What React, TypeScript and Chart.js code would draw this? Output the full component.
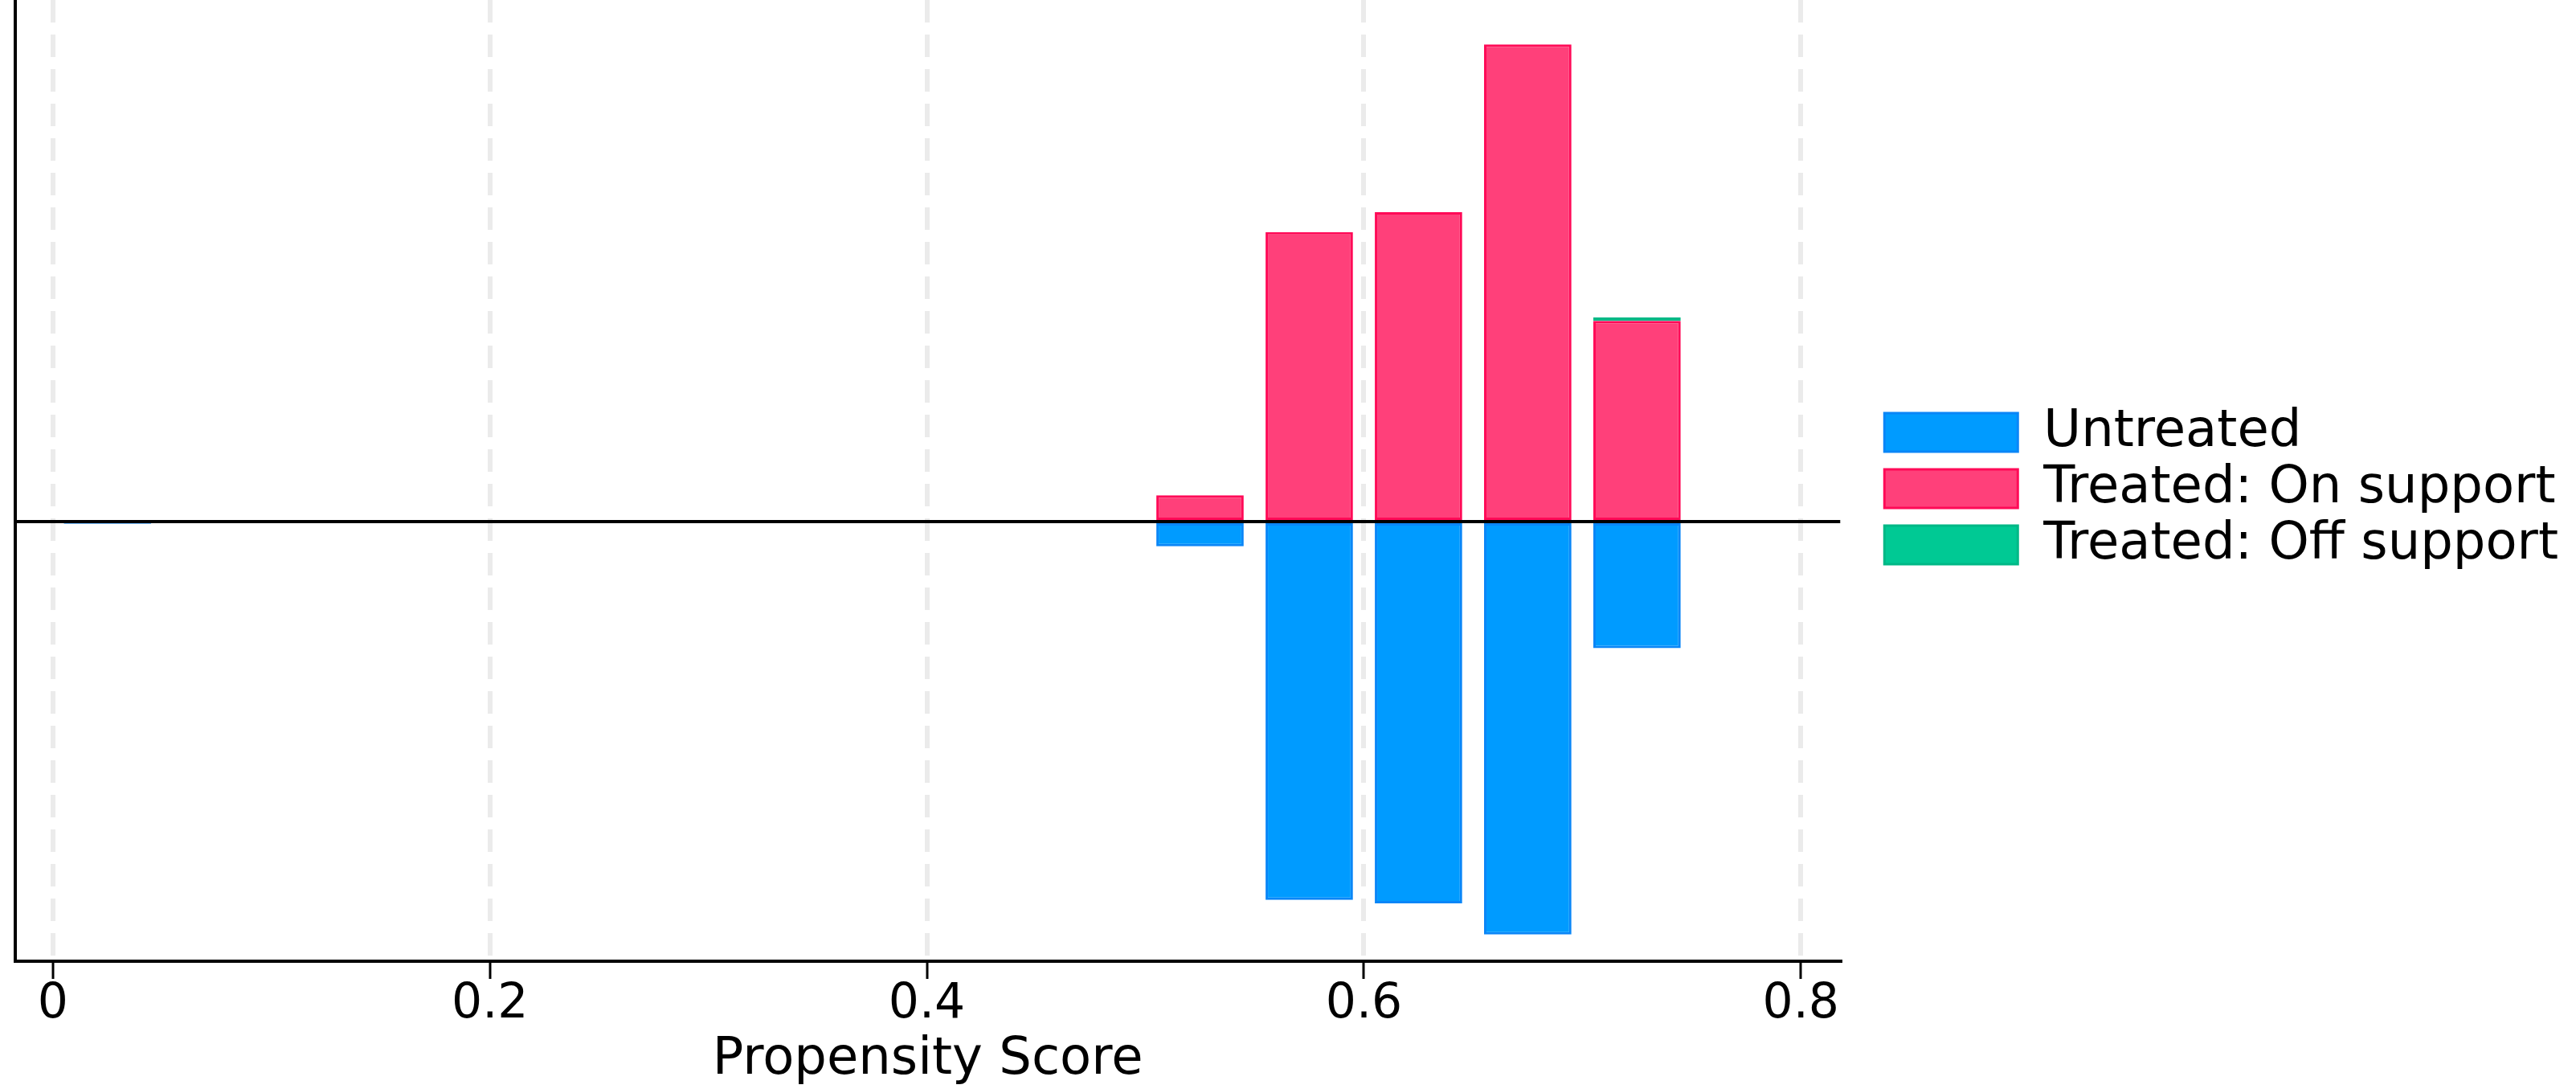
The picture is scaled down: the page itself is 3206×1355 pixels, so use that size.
import React, { useEffect, useRef } from "react";
import { Chart, registerables } from "chart.js";

Chart.register(...registerables);

// bin centres of the propensity-score histogram (bin width 0.05)
const binCenters = [0.025, 0.525, 0.575, 0.625, 0.675, 0.725];
// untreated are mirrored below the zero line
const untreated = [-0.7, -7.5, -115, -116, -125.5, -38.5];
const treatedOnSupport = [null, 8, 88, 94, 145, 61];
const treatedOffSupport = [null, null, null, null, null, 1];
const xTickValues = [0, 0.2, 0.4, 0.6, 0.8];

const toPoints = (values: (number | null)[]) =>
  binCenters.map((x, i) => ({ x, y: values[i] }));

const App: React.FC = () => {
  const chartRef = useRef<HTMLCanvasElement | null>(null);

  useEffect(() => {
    document.body.style.margin = "0";
    if (!chartRef.current) return;
    const ctx = chartRef.current.getContext("2d");
    if (!ctx) return;

    Chart.defaults.font.family = "'DejaVu Sans', sans-serif";
    Chart.defaults.color = "#000";

    const barStyle = {
      borderWidth: 3,
      borderSkipped: false as const,
      barPercentage: 0.8,
      categoryPercentage: 1,
    };

    const myChart = new Chart(ctx, {
      type: "bar",
      data: {
        datasets: [
          {
            label: "Untreated",
            data: toPoints(untreated),
            backgroundColor: "#009bff",
            borderColor: "#0a86f7",
            ...barStyle,
          },
          {
            label: "Treated: On support",
            data: toPoints(treatedOnSupport),
            backgroundColor: "#ff407a",
            borderColor: "#ff0a57",
            ...barStyle,
          },
          {
            label: "Treated: Off support",
            data: toPoints(treatedOffSupport),
            backgroundColor: "#00c994",
            borderColor: "#00b886",
            ...barStyle,
          },
        ],
      },
      options: {
        animation: false,
        responsive: true,
        maintainAspectRatio: false,
        layout: { padding: { left: 19, right: 12, top: 0, bottom: 0 } },
        scales: {
          x: {
            type: "linear",
            min: -0.0172,
            max: 0.818,
            offset: false,
            stacked: true,
            afterBuildTicks: (scale: any) => {
              scale.ticks = xTickValues.map((value) => ({ value }));
            },
            ticks: {
              callback: (v: any) => String(v),
              font: { size: 60, lineHeight: 1 },
              padding: 2,
              maxRotation: 0,
              autoSkip: false,
            },
            grid: {
              offset: false,
              color: "#ebebeb",
              lineWidth: 6,
              tickColor: "#000",
              tickWidth: 3,
              tickLength: 22,
            },
            border: { display: true, color: "#000", width: 4, dash: [28, 15] },
            title: {
              display: true,
              text: "Propensity Score",
              font: { size: 64, lineHeight: 1 },
              padding: { top: 5, bottom: 4 },
            },
          },
          y: {
            type: "linear",
            min: -133.6,
            max: 158.5,
            stacked: true,
            afterBuildTicks: (scale: any) => {
              scale.ticks = [{ value: 0 }]; // only the zero line
            },
            ticks: { display: false },
            grid: { color: "#000", lineWidth: 4, drawTicks: false, tickLength: 0 },
            border: { display: true, color: "#000", width: 4 },
          },
          // empty axis that only keeps a gap between plot and legend
          spacer: {
            type: "linear",
            position: "right",
            display: true,
            ticks: { display: false },
            grid: { display: false, drawTicks: false },
            border: { display: false },
            afterFit: (scale: any) => {
              scale.width = 49;
            },
          },
        },
        plugins: {
          legend: {
            display: true,
            position: "right",
            fullSize: false,
            maxWidth: 900,
            // empty title only nudges the items down a little
            title: { display: true, text: "", font: { size: 20, lineHeight: 1 }, padding: 0 },
            labels: {
              boxWidth: 166,
              boxHeight: 48,
              padding: 6,
              font: { size: 64 },
              color: "#000",
            },
          },
          tooltip: { enabled: false },
        },
      },
    });

    return () => {
      myChart.destroy();
    };
  }, []);

  return (
    <div style={{ width: 3206, height: 1355, background: "#fff" }}>
      <canvas ref={chartRef}></canvas>
    </div>
  );
};

export default App;
